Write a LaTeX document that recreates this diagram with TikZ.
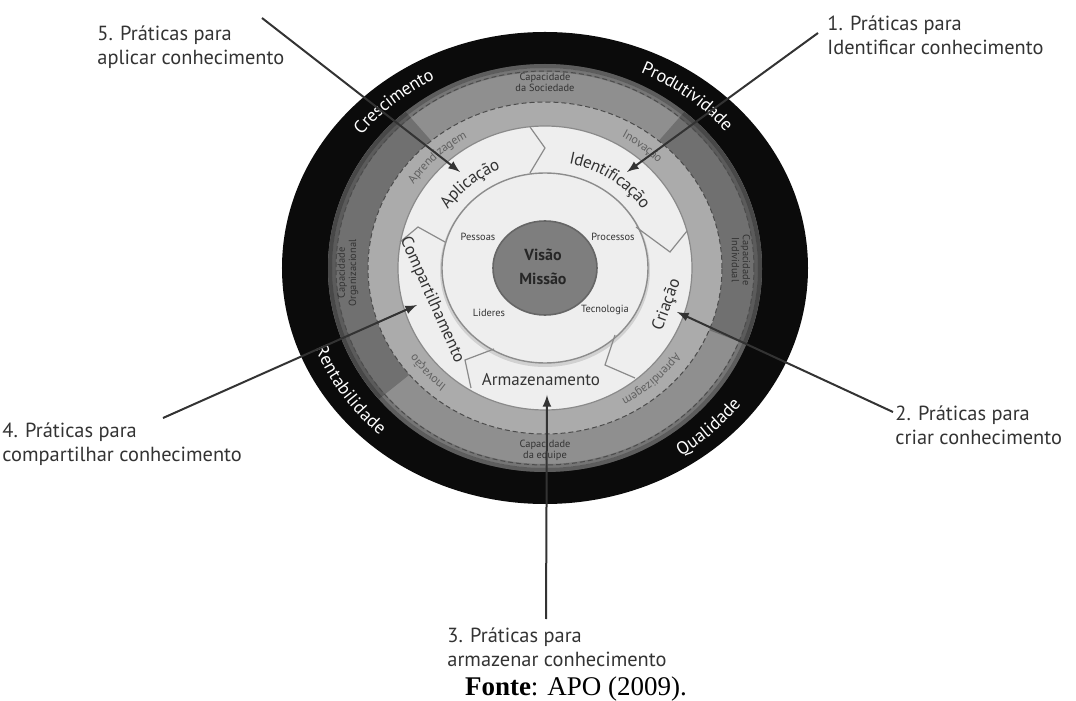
\documentclass[tikz,border=0pt]{standalone}
\usepackage{fontspec}
\setmainfont{Liberation Serif}
\newfontfamily\labelfont{PT Sans}
\usetikzlibrary{arrows.meta,decorations.text}

\definecolor{ringblack}{HTML}{0B0B0B}
\definecolor{capdark}{HTML}{707070}
\definecolor{capmid}{HTML}{8F8F8F}
\definecolor{bandgray}{HTML}{ABABAB}
\definecolor{procwhite}{HTML}{EEEEEE}
\definecolor{linegray}{HTML}{8A8A8A}
\definecolor{coregray}{HTML}{7E7E7E}
\definecolor{inkgray}{HTML}{333333}

\begin{document}
\begin{tikzpicture}[x=0.5pt,y=0.5pt,>=latex,
  pratica/.style={align=left,anchor=north west,inner sep=0pt,text=inkgray,
    font=\labelfont\fontsize{10.2}{12}\selectfont},
  etapa/.style={inner sep=0pt,text=inkgray,font=\labelfont\fontsize{8.5}{10}\selectfont},
  miuda/.style={inner sep=0pt,align=center,text=inkgray,
    font=\labelfont\fontsize{5.2}{5.6}\selectfont},
  tracejado/.style={draw=black!70,line width=0.5pt,dash pattern=on 2.5pt off 1.5pt},
  divisa/.style={draw=linegray,line width=0.6pt},
  seta/.style={->,draw=inkgray,line width=1pt},
  arco/.style={decorate,decoration={text along path,text align=center,raise=-3pt}},
  arcobanda/.style={decorate,decoration={text along path,text align=center,raise=-2pt}},
  ]
  \useasboundingbox (-545,-433) rectangle (531,268);

  \fill[ringblack] (0,0) ellipse [x radius=263, y radius=236];
  \fill[capmid] (0,0) ellipse [x radius=217, y radius=204];
  \fill[capdark] (50:217 and 204) arc[start angle=50, end angle=-22, x radius=217, y radius=204]
    -- (-22:177 and 166) arc[start angle=-22, end angle=50, x radius=177, y radius=166] -- cycle;
  \fill[capdark] (130:217 and 204) arc[start angle=130, end angle=220, x radius=217, y radius=204]
    -- (220:177 and 166) arc[start angle=220, end angle=130, x radius=177, y radius=166] -- cycle;
  \draw[black,opacity=0.35,line width=2pt] (0,0) ellipse [x radius=215, y radius=202];
  \draw[black,opacity=0.18,line width=2pt] (0,0) ellipse [x radius=211, y radius=198];
  \fill[bandgray] (0,0) ellipse [x radius=177, y radius=166];
  \draw[tracejado] (0,0) ellipse [x radius=209, y radius=197];
  \draw[tracejado] (0,0) ellipse [x radius=177, y radius=166];
  \filldraw[fill=procwhite,divisa] (0,0) ellipse [x radius=147, y radius=142];
  \draw[black,opacity=0.12,line width=2pt] (0,-2) ellipse [x radius=103, y radius=95];
  \filldraw[fill=procwhite,draw=black!45,line width=0.7pt] (0,0) ellipse [x radius=103, y radius=95];

  \draw[divisa] (-15,141) -- (0,120) -- (-15,95);
  \draw[divisa] (91,41) -- (125,16) -- (142,37);
  \draw[divisa] (70,-67) -- (60,-97) -- (90,-110);
  \draw[divisa] (-51,-81) -- (-80,-92) -- (-74,-120);
  \draw[divisa] (-145,26) -- (-127,41) -- (-100,26);

  \filldraw[fill=coregray,draw=black!60,line width=0.8pt] (0,0) ellipse [x radius=52, y radius=47];
  \node[align=center,inner sep=0pt,text=black!85,font=\labelfont\bfseries\fontsize{8}{12}\selectfont]
    (nucleo) at (-2,1) {Visão\\Missão};

  \node[miuda] (pessoas) at (-67,31) {Pessoas};
  \node[miuda] (processos) at (68,31) {Processos};
  \node[miuda] (lideres) at (-56,-45) {Lideres};
  \node[miuda] (tecnologia) at (60,-42) {Tecnologia};

  \path[arco,decoration={text={|\labelfont\fontsize{8.5}{10}\selectfont\color{inkgray}|Identificação}}]
    (95:122 and 113) arc[start angle=95, end angle=15, x radius=122, y radius=113];
  \path[arco,decoration={text={|\labelfont\fontsize{8.5}{10}\selectfont\color{inkgray}|Aplicação}}]
    (165:122 and 113) arc[start angle=165, end angle=95, x radius=122, y radius=113];
  \node[etapa,rotate=70] (criacao) at (122,-37) {Criação};
  \node[etapa] (armazenamento) at (-4,-112) {Armazenamento};
  \node[etapa,rotate=-66] (compartilhamento) at (-113,-32) {Compartilhamento};

  \path[arcobanda,decoration={text={|\labelfont\fontsize{6}{7}\selectfont\color{black!62}|Aprendizagem}}]
    (160:162 and 154) arc[start angle=160, end angle=106, x radius=162, y radius=154];
  \path[arcobanda,decoration={text={|\labelfont\fontsize{6}{7}\selectfont\color{black!62}|Inovação}}]
    (72:162 and 154) arc[start angle=72, end angle=33, x radius=162, y radius=154];
  \path[arcobanda,decoration={text={|\labelfont\fontsize{6}{7}\selectfont\color{black!62}|Inovação}}]
    (243:162 and 154) arc[start angle=243, end angle=203, x radius=162, y radius=154];
  \path[arcobanda,decoration={text={|\labelfont\fontsize{6}{7}\selectfont\color{black!62}|Aprendizagem}}]
    (-20:162 and 154) arc[start angle=-20, end angle=-75, x radius=162, y radius=154];

  \node[miuda] (capsoc) at (0,186) {Capacidade\\da Sociedade};
  \node[miuda] (capeq) at (0,-182) {Capacidade\\da equipe};
  \node[miuda,rotate=90] (caporg) at (-197,-5) {Capacidade\\Organizacional};
  \node[miuda,rotate=-90] (capind) at (196,8) {Capacidade\\Individual};

  \path[arco,decoration={text={|\labelfont\fontsize{9}{10}\selectfont\color{white}|Crescimento}}]
    (150:240 and 220) arc[start angle=150, end angle=110, x radius=240, y radius=220];
  \path[arco,decoration={text={|\labelfont\fontsize{9}{10}\selectfont\color{white}|Produtividade}}]
    (75:240 and 220) arc[start angle=75, end angle=30, x radius=240, y radius=220];
  \path[arco,decoration={text={|\labelfont\fontsize{9}{10}\selectfont\color{white}|Qualidade}}]
    (-65:240 and 220) arc[start angle=-65, end angle=-28, x radius=240, y radius=220];
  \path[arco,decoration={text={|\labelfont\fontsize{9}{10}\selectfont\color{white}|Rentabilidade}}]
    (190:240 and 220) arc[start angle=190, end angle=238, x radius=240, y radius=220];

  \node[pratica] (p1) at (282,253) {1. Práticas para\\Identificar conhecimento};
  \node[pratica] (p2) at (350,-137) {2. Práticas para\\criar conhecimento};
  \node[pratica] (p3) at (-98,-359) {3. Práticas para\\armazenar conhecimento};
  \node[pratica] (p4) at (-543,-154) {4. Práticas para\\compartilhar conhecimento};
  \node[pratica] (p5) at (-448,243) {5. Práticas para\\aplicar conhecimento};

  \coordinate (o1) at (273,235);
  \coordinate (o2) at (348,-144);
  \coordinate (o3) at (1,-351);
  \coordinate (o4) at (-382,-150);
  \coordinate (o5) at (-283,250);
  \coordinate (d1) at (82,96);
  \coordinate (d2) at (132,-44);
  \coordinate (d3) at (2,-127);
  \coordinate (d4) at (-128,-37);
  \coordinate (d5) at (-85,96);
  \draw[seta] (o1) -- (d1);
  \draw[seta] (o2) -- (d2);
  \draw[seta] (o3) -- (d3);
  \draw[seta] (o4) -- (d4);
  \draw[seta] (o5) -- (d5);

  \node[inner sep=0pt,font=\fontsize{13.5}{15}\selectfont] (fonte) at (31,-421) {\textbf{Fonte}: APO (2009).};
\end{tikzpicture}
\end{document}
